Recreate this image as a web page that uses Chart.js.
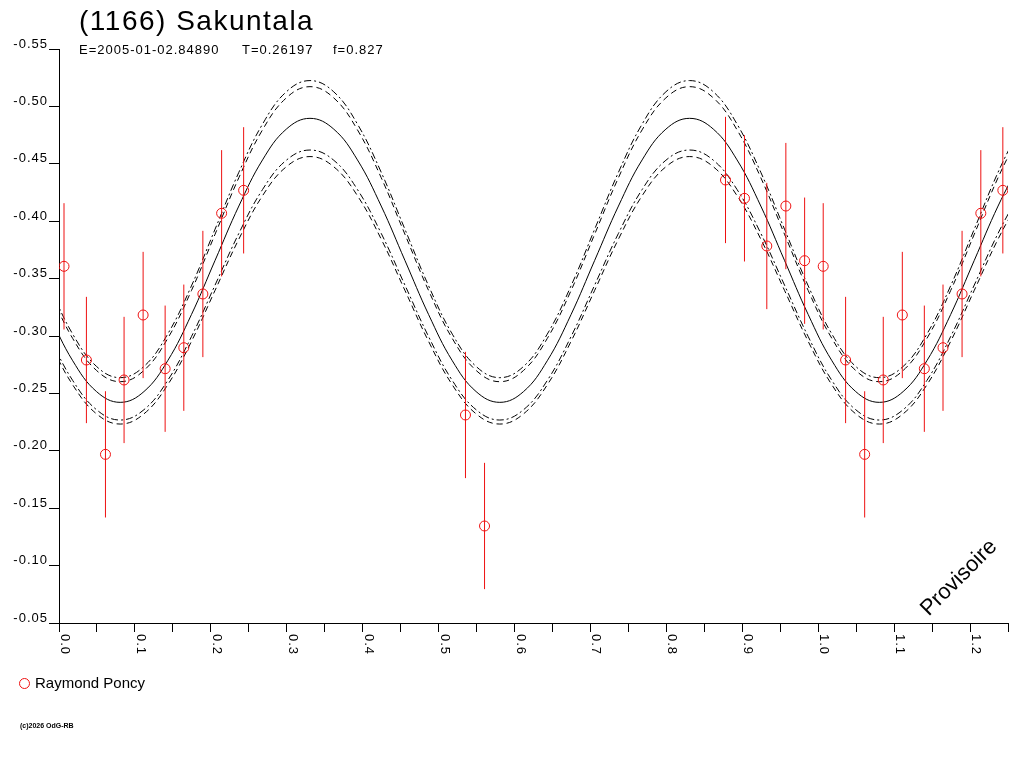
<!DOCTYPE html>
<html>
<head>
<meta charset="utf-8">
<title>(1166) Sakuntala</title>
<script src="https://cdn.jsdelivr.net/npm/chart.js@4.4.1/dist/chart.umd.min.js"></script>
<style>
  html, body { margin: 0; padding: 0; background: #fff; }
  #wrap { position: relative; width: 1024px; height: 768px; }
</style>
</head>
<body>
<div id="wrap"><canvas id="chart"></canvas></div>
<script>
// texts
const title = "(1166) Sakuntala";
const subtitleParts = ["E=2005-01-02.84890", "T=0.26197", "f=0.827"];
const observer = "Raymond Poncy";
const stamp = "Provisoire";
const copyright = "(c)2026 OdG-RB";

// fitted light curve (phase / magnitude)
const fitPhase = [-0.0132, 0.0181, 0.0494, 0.0806, 0.1119, 0.1431, 0.1744, 0.2056, 0.2369, 0.2681,
  0.2994, 0.3306, 0.3619, 0.3931, 0.4244, 0.4556, 0.4869, 0.5181, 0.5494, 0.5806,
  0.6119, 0.6431, 0.6744, 0.7056, 0.7369, 0.7681, 0.7994, 0.8306, 0.8619, 0.8931,
  0.9244, 0.9556, 0.9869, 1.0181, 1.0494, 1.0806, 1.1119, 1.1431, 1.1744, 1.2056,
  1.2369, 1.2681];
const fitMean = [-0.3186, -0.2784, -0.2516, -0.2422, -0.2516, -0.2784, -0.3186, -0.3659, -0.4132, -0.4534,
  -0.4802, -0.4896, -0.4802, -0.4534, -0.4132, -0.3659, -0.3186, -0.2784, -0.2516, -0.2422,
  -0.2516, -0.2784, -0.3186, -0.3659, -0.4132, -0.4534, -0.4802, -0.4896, -0.4802, -0.4534,
  -0.4132, -0.3659, -0.3186, -0.2784, -0.2516, -0.2422, -0.2516, -0.2784, -0.3186, -0.3659,
  -0.4132, -0.4534];
const fitUpperA = [-0.3436, -0.3016, -0.2735, -0.2637, -0.2735, -0.3016, -0.3436, -0.3931, -0.4426, -0.4846,
  -0.5127, -0.5225, -0.5127, -0.4846, -0.4426, -0.3931, -0.3436, -0.3016, -0.2735, -0.2637,
  -0.2735, -0.3016, -0.3436, -0.3931, -0.4426, -0.4846, -0.5127, -0.5225, -0.5127, -0.4846,
  -0.4426, -0.3931, -0.3436, -0.3016, -0.2735, -0.2637, -0.2735, -0.3016, -0.3436, -0.3931,
  -0.4426, -0.4846];
const fitUpperB = [-0.3395, -0.2978, -0.2700, -0.2602, -0.2700, -0.2978, -0.3395, -0.3887, -0.4379, -0.4796,
  -0.5074, -0.5172, -0.5074, -0.4796, -0.4379, -0.3887, -0.3395, -0.2978, -0.2700, -0.2602,
  -0.2700, -0.2978, -0.3395, -0.3887, -0.4379, -0.4796, -0.5074, -0.5172, -0.5074, -0.4796,
  -0.4379, -0.3887, -0.3395, -0.2978, -0.2700, -0.2602, -0.2700, -0.2978, -0.3395, -0.3887,
  -0.4379, -0.4796];
const fitLowerA = [-0.2952, -0.2574, -0.2322, -0.2233, -0.2322, -0.2574, -0.2952, -0.3398, -0.3844, -0.4222,
  -0.4474, -0.4563, -0.4474, -0.4222, -0.3844, -0.3398, -0.2952, -0.2574, -0.2322, -0.2233,
  -0.2322, -0.2574, -0.2952, -0.3398, -0.3844, -0.4222, -0.4474, -0.4563, -0.4474, -0.4222,
  -0.3844, -0.3398, -0.2952, -0.2574, -0.2322, -0.2233, -0.2322, -0.2574, -0.2952, -0.3398,
  -0.3844, -0.4222];
const fitLowerB = [-0.2994, -0.2612, -0.2358, -0.2268, -0.2358, -0.2612, -0.2994, -0.3444, -0.3894, -0.4276,
  -0.4531, -0.4620, -0.4531, -0.4276, -0.3894, -0.3444, -0.2994, -0.2612, -0.2358, -0.2268,
  -0.2358, -0.2612, -0.2994, -0.3444, -0.3894, -0.4276, -0.4531, -0.4620, -0.4531, -0.4276,
  -0.3894, -0.3444, -0.2994, -0.2612, -0.2358, -0.2268, -0.2358, -0.2612, -0.2994, -0.3444,
  -0.3894, -0.4276];

// measurements (phase > 1 are the same points repeated)
const obsPhase = [0.0066, 0.0361, 0.0612, 0.0857, 0.1108, 0.1398, 0.1644, 0.1895, 0.2142, 0.2432,
  0.5354, 0.5605, 0.8779, 0.9029, 0.9323, 0.9574, 0.9821,
  1.0066, 1.0361, 1.0612, 1.0857, 1.1108, 1.1398, 1.1644, 1.1895, 1.2142, 1.2432];
const obsMag = [-0.3607, -0.2791, -0.1969, -0.2617, -0.3183, -0.2715, -0.2898, -0.3366, -0.4069, -0.4269,
  -0.2312, -0.1345, -0.4359, -0.4199, -0.3784, -0.4132, -0.3656,
  -0.3607, -0.2791, -0.1969, -0.2617, -0.3183, -0.2715, -0.2898, -0.3366, -0.4069, -0.4269];
const obsErr = [0.055, 0.055, 0.055, 0.055, 0.055, 0.055, 0.055, 0.055, 0.055, 0.055,
  0.055, 0.055, 0.055, 0.055, 0.055, 0.055, 0.055,
  0.055, 0.055, 0.055, 0.055, 0.055, 0.055, 0.055, 0.055, 0.055, 0.055];

const xTickValues = [0, 0.1, 0.2, 0.3, 0.4, 0.5, 0.6, 0.7, 0.8, 0.9, 1.0, 1.1, 1.2];
const xTickLabels = ["0.0", "0.1", "0.2", "0.3", "0.4", "0.5", "0.6", "0.7", "0.8", "0.9", "1.0", "1.1", "1.2"];

const FONT = "'Liberation Sans', Arial, sans-serif";
const RED = "#ee1111";
const DASHED = [6, 4];
const DASHDOT = [7, 3, 2, 3];

function pairs(xs, ys) {
    return xs.map((x, i) => ({ x: x, y: ys[i] }));
}

function curve(ys, dash) {
    return {
        data: pairs(fitPhase, ys),
        showLine: true,
        borderColor: "#000",
        borderWidth: 1,
        borderDash: dash,
        pointRadius: 0,
        tension: 0.4,
        clip: 0,
        order: 2
    };
}

function drawText(ctx, str, x, y, font, spacing, align) {
    ctx.save();
    ctx.font = font;
    ctx.letterSpacing = spacing;
    ctx.fillStyle = "#000";
    ctx.textAlign = align || "left";
    ctx.textBaseline = "alphabetic";
    ctx.fillText(str, x, y);
    ctx.restore();
}

// error bars, rotated x labels and the other texts
const decor = {
    id: "decor",
    beforeDraw(chart) {
        chart.ctx.letterSpacing = "1px";
    },
    afterDatasetsDraw(chart) {
        const ctx = chart.ctx;
        const a = chart.chartArea;
        const xs = chart.scales.x;
        const ys = chart.scales.y;
        ctx.save();
        ctx.beginPath();
        ctx.rect(a.left, a.top, a.right - a.left, a.bottom - a.top);
        ctx.clip();
        ctx.strokeStyle = RED;
        ctx.lineWidth = 1;
        obsPhase.forEach((p, i) => {
            const px = xs.getPixelForValue(p);
            ctx.beginPath();
            ctx.moveTo(px, ys.getPixelForValue(obsMag[i] - obsErr[i]));
            ctx.lineTo(px, ys.getPixelForValue(obsMag[i] + obsErr[i]));
            ctx.stroke();
        });
        ctx.restore();
    },
    afterDraw(chart) {
        const ctx = chart.ctx;
        const xs = chart.scales.x;
        const bottom = chart.chartArea.bottom;

        // x labels, turned a quarter clockwise
        xTickValues.forEach((v, i) => {
            ctx.save();
            ctx.translate(xs.getPixelForValue(v) + 2, bottom + 11);
            ctx.rotate(Math.PI / 2);
            drawText(ctx, xTickLabels[i], 0, 0, "13px " + FONT, "1px");
            ctx.restore();
        });

        drawText(ctx, title, 79, 30, "28px " + FONT, "1.5px");
        drawText(ctx, subtitleParts[0], 79, 54, "13px " + FONT, "1px");
        drawText(ctx, subtitleParts[1], 242, 54, "13px " + FONT, "1px");
        drawText(ctx, subtitleParts[2], 333, 54, "13px " + FONT, "1px");

        // legend
        ctx.save();
        ctx.strokeStyle = RED;
        ctx.lineWidth = 1;
        ctx.beginPath();
        ctx.arc(24.5, 683.5, 5, 0, Math.PI * 2);
        ctx.stroke();
        ctx.restore();
        drawText(ctx, observer, 35, 688, "15px " + FONT, "0px");

        // watermark
        ctx.save();
        ctx.translate(959, 578);
        ctx.rotate(-Math.PI / 4);
        ctx.font = "22px " + FONT;
        ctx.letterSpacing = "0px";
        ctx.fillStyle = "#000";
        ctx.textAlign = "center";
        ctx.textBaseline = "middle";
        ctx.fillText(stamp, 0, 0);
        ctx.restore();

        drawText(ctx, copyright, 20, 728, "bold 7px " + FONT, "0px");
    }
};

const chart = new Chart(document.getElementById("chart"), {
    type: "scatter",
    data: {
        datasets: [
            {
                label: observer,
                data: pairs(obsPhase, obsMag),
                pointStyle: "circle",
                pointRadius: 5,
                pointBorderColor: RED,
                pointBackgroundColor: "rgba(0,0,0,0)",
                pointBorderWidth: 1,
                showLine: false,
                order: 1
            },
            curve(fitMean, []),
            curve(fitUpperA, DASHDOT),
            curve(fitUpperB, DASHED),
            curve(fitLowerA, DASHED),
            curve(fitLowerB, DASHDOT)
        ]
    },
    options: {
        responsive: true,
        maintainAspectRatio: false,
        animation: false,
        events: [],
        layout: { padding: { left: 0, top: 49, right: 16, bottom: 135 } },
        plugins: {
            legend: { display: false },
            title: { display: false },
            tooltip: { enabled: false }
        },
        scales: {
            x: {
                type: "linear",
                min: 0,
                max: 1.25,
                ticks: { stepSize: 0.05, display: false, autoSkip: false },
                grid: { drawOnChartArea: false, tickLength: 9, tickColor: "#000" },
                border: { color: "#000", width: 1 },
                afterFit(s) { s.height = 10; }
            },
            y: {
                type: "linear",
                min: -0.55,
                max: -0.05,
                reverse: true,
                ticks: {
                    stepSize: 0.05,
                    color: "#000",
                    padding: 1,
                    labelOffset: -5,
                    font: { family: FONT, size: 13 },
                    callback: (v) => Number(v).toFixed(2)
                },
                grid: { drawOnChartArea: false, tickLength: 10, tickColor: "#000" },
                border: { color: "#000", width: 1 },
                afterFit(s) { s.width = 59; }
            }
        }
    },
    plugins: [decor]
});
</script>
</body>
</html>
